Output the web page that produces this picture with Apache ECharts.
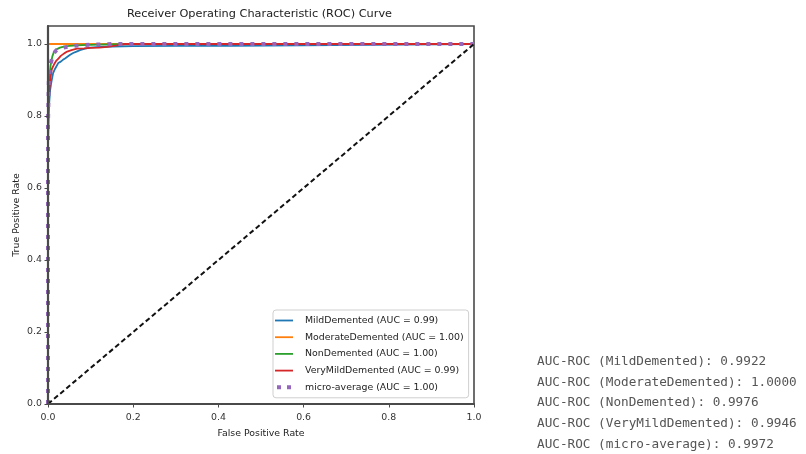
<!DOCTYPE html>
<html>
<head>
<meta charset="utf-8">
<script src="https://cdn.jsdelivr.net/npm/echarts@6/dist/echarts.min.js"></script>
<style>
html,body{margin:0;padding:0;background:#fff;}
#chart{width:806px;height:454px;}
</style>
</head>
<body>
<div id="chart"></div>
<script>
// ---- data ----
const seriesNames = ['MildDemented (AUC = 0.99)', 'ModerateDemented (AUC = 1.00)', 'NonDemented (AUC = 1.00)', 'VeryMildDemented (AUC = 0.99)', 'micro-average (AUC = 1.00)'];
const seriesColors = ['#1f77b4', '#ff7f0e', '#2ca02c', '#d62728', '#9467bd'];

const mildFpr = [0, 0, 0.001, 0.003, 0.005, 0.008, 0.012, 0.016, 0.024, 0.03, 0.035, 0.04, 0.044, 0.052, 0.059, 0.067, 0.075, 0.087, 0.099, 0.12, 0.15, 0.2, 0.3, 0.43, 0.43, 1.0];
const mildTpr = [0, 0.70, 0.80, 0.84, 0.872, 0.895, 0.919, 0.93, 0.947, 0.951, 0.956, 0.96, 0.965, 0.97, 0.975, 0.979, 0.983, 0.987, 0.99, 0.992, 0.993, 0.994, 0.995, 0.995, 1.0, 1.0];

const moderateFpr = [0, 0, 1.0];
const moderateTpr = [0, 1.0, 1.0];

const nonFpr = [0, 0, 0.003, 0.006, 0.01, 0.014, 0.02, 0.028, 0.037, 0.05, 0.08, 0.12, 0.2, 1.0];
const nonTpr = [0, 0.85, 0.90, 0.94, 0.965, 0.978, 0.985, 0.99, 0.993, 0.995, 0.997, 0.998, 1.0, 1.0];

const veryMildFpr = [0, 0, 0.002, 0.005, 0.009, 0.014, 0.019, 0.025, 0.03, 0.038, 0.045, 0.055, 0.068, 0.085, 0.1, 0.12, 0.14, 0.162, 0.18, 1.0];
const veryMildTpr = [0, 0.72, 0.85, 0.90, 0.93, 0.943, 0.953, 0.96, 0.967, 0.974, 0.979, 0.983, 0.987, 0.988, 0.989, 0.99, 0.992, 0.996, 1.0, 1.0];

const microFpr = [0, 0, 0.002, 0.005, 0.01, 0.014, 0.02, 0.028, 0.037, 0.05, 0.07, 0.1, 0.15, 1.0];
const microTpr = [0, 0.78, 0.90, 0.94, 0.962, 0.975, 0.983, 0.987, 0.99, 0.993, 0.996, 0.998, 1.0, 1.0];

const diagFpr = [0, 1];
const diagTpr = [0, 1];

const xTicks = [0, 0.2, 0.4, 0.6, 0.8, 1.0];
const yTicks = [0, 0.2, 0.4, 0.6, 0.8, 1.0];

const aucClasses = ['MildDemented', 'ModerateDemented', 'NonDemented', 'VeryMildDemented', 'micro-average'];
const aucValues = [0.9922, 1.0000, 0.9976, 0.9946, 0.9972];

// ---- build ----
function zip(a, b) { return a.map((v, i) => [v, b[i]]); }
const curves = [
  zip(mildFpr, mildTpr),
  zip(moderateFpr, moderateTpr),
  zip(nonFpr, nonTpr),
  zip(veryMildFpr, veryMildTpr),
  zip(microFpr, microTpr)
];

const FONT = 'DejaVu Sans';
const AX = '#4a4a4a';

const series = curves.map((d, i) => ({
  name: seriesNames[i],
  type: 'line',
  data: d,
  showSymbol: false,
  symbol: 'none',
  clip: false,
  silent: true,
  animation: false,
  color: seriesColors[i],
  lineStyle: i === 4
    ? { color: seriesColors[i], width: 4, type: [4, 7], cap: 'butt' }
    : { color: seriesColors[i], width: 1.8 },
  z: 2 + i
}));
series.push({
  name: 'diag',
  type: 'line',
  data: zip(diagFpr, diagTpr),
  showSymbol: false,
  symbol: 'none',
  clip: false,
  silent: true,
  animation: false,
  lineStyle: { color: '#111', width: 2, type: [5, 3] },
  z: 10
});

const lineIcon = 'path://M0,0h20v2h-20z';
const dotIcon = 'path://M0,0h4v4h-4zM10,0h4v4h-4z';

const textLines = aucClasses.map((c, i) => ({
  type: 'text',
  left: 537,
  top: 355 + i * 20.8,
  style: {
    text: 'AUC-ROC (' + c + '): ' + aucValues[i].toFixed(4),
    font: '12.7px "DejaVu Sans Mono"',
    fill: '#555'
  }
}));

const chart = echarts.init(document.getElementById('chart'), null, { renderer: 'canvas' });
chart.setOption({
  animation: false,
  backgroundColor: '#fff',
  textStyle: { fontFamily: FONT },
  title: {
    text: 'Receiver Operating Characteristic (ROC) Curve',
    left: 127,
    top: 9,
    padding: 0,
    textStyle: { fontFamily: FONT, fontSize: 11.3, fontWeight: 'normal', color: '#222' }
  },
  grid: {
    left: 48, top: 26, width: 426, height: 378,
    show: true, borderColor: AX, borderWidth: 1.6, backgroundColor: 'transparent'
  },
  xAxis: {
    type: 'value', min: 0, max: 1, interval: 0.2, z: 20,
    name: 'False Positive Rate', nameLocation: 'middle', nameGap: 25,
    nameTextStyle: { fontFamily: FONT, fontSize: 9.4, color: '#222' },
    axisLine: { show: true, lineStyle: { color: AX, width: 2.2 } },
    axisTick: { show: true, length: 3.5, lineStyle: { color: AX }, customValues: xTicks },
    axisLabel: { customValues: xTicks, margin: 9, fontFamily: FONT, fontSize: 9.4, color: '#333', formatter: v => v.toFixed(1) },
    splitLine: { show: false }
  },
  yAxis: {
    type: 'value', min: 0, max: 1.05, z: 20,
    name: 'True Positive Rate', nameLocation: 'middle', nameGap: 27, nameRotate: 90,
    nameMoveOverlap: false,
    nameTextStyle: { fontFamily: FONT, fontSize: 9.4, color: '#222' },
    axisLine: { show: true, lineStyle: { color: AX, width: 2.2 } },
    axisTick: { show: true, length: 3.5, lineStyle: { color: AX }, customValues: yTicks },
    axisLabel: { customValues: yTicks, margin: 6, fontFamily: FONT, fontSize: 9.4, color: '#333', formatter: v => v.toFixed(1) },
    splitLine: { show: false }
  },
  legend: {
    orient: 'vertical',
    left: 273, top: 310,
    padding: [4, 5, 4, 2],
    itemWidth: 18, itemHeight: 4, itemGap: 3.7,
    backgroundColor: 'rgba(255,255,255,0.85)',
    borderColor: '#cfcfcf', borderWidth: 1, borderRadius: 3,
    selectedMode: false,
    itemStyle: { borderWidth: 0 },
    textStyle: { fontFamily: FONT, fontSize: 9.4, color: '#222', lineHeight: 13, padding: [0, 0, 0, 7] },
    data: seriesNames.map((n, i) => ({
      name: n,
      icon: i === 4 ? dotIcon : lineIcon,
      itemStyle: { color: seriesColors[i], borderWidth: 0 }
    }))
  },
  graphic: textLines,
  series: series
});
</script>
</body>
</html>
